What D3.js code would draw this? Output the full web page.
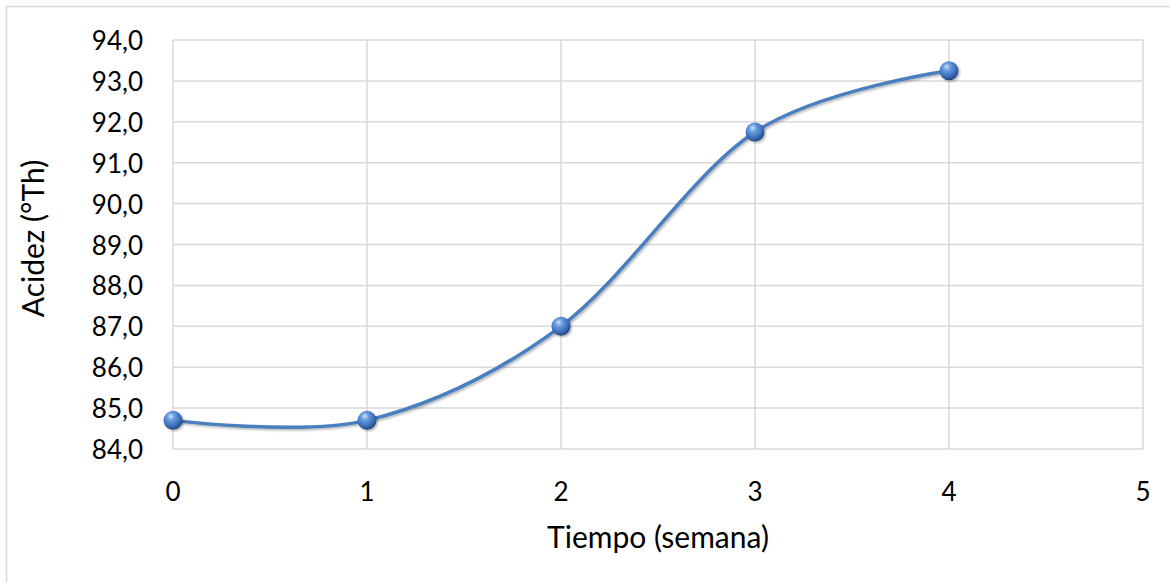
<!DOCTYPE html>
<html>
<head>
<meta charset="utf-8">
<script src="https://cdn.jsdelivr.net/npm/d3@7"></script>
<style>
  html, body { margin: 0; padding: 0; background: #fff; }
  svg { display: block; }
  text { font-family: Lato, "Open Sans", "Liberation Sans", sans-serif; fill: #000; }
</style>
</head>
<body>
<svg id="chart" width="1170" height="582"></svg>
<script>
// Acidez (°Th) measured each week
const weeks = [0, 1, 2, 3, 4];
const acidity = [84.7, 84.7, 87.0, 91.75, 93.25];
const xTicks = [0, 1, 2, 3, 4, 5];
const yTicks = [84, 85, 86, 87, 88, 89, 90, 91, 92, 93, 94];
const xTitle = "Tiempo (semana)";
const yTitle = "Acidez (°Th)";

const svg = d3.select("#chart");
const W = 1170, H = 582;
const plot = { left: 173, right: 1143, top: 40, bottom: 449 };

const x = d3.scaleLinear().domain([0, 5]).range([plot.left, plot.right]);
const y = d3.scaleLinear().domain([84, 94]).range([plot.bottom, plot.top]);

// chart frame
svg.append("rect")
  .attr("x", 6.5).attr("y", 6.5)
  .attr("width", W + 20).attr("height", H + 20)
  .attr("fill", "#fff").attr("stroke", "#d9d9d9").attr("stroke-width", 1.5);

const defs = svg.append("defs");
const grad = defs.append("radialGradient")
  .attr("id", "ball").attr("cx", "40%").attr("cy", "35%").attr("r", "65%")
  .attr("fx", "38%").attr("fy", "28%");
grad.append("stop").attr("offset", "0%").attr("stop-color", "#cfe2fb");
grad.append("stop").attr("offset", "30%").attr("stop-color", "#6a9de0");
grad.append("stop").attr("offset", "75%").attr("stop-color", "#3a6cb8");
grad.append("stop").attr("offset", "100%").attr("stop-color", "#24487f");

const shadow = defs.append("filter").attr("id", "shadow")
  .attr("x", "-10%").attr("y", "-10%").attr("width", "120%").attr("height", "120%");
shadow.append("feDropShadow")
  .attr("dx", 1.5).attr("dy", 1.5).attr("stdDeviation", 1.2)
  .attr("flood-color", "#000").attr("flood-opacity", 0.3);

// horizontal grid
svg.append("g").selectAll("line").data(yTicks).join("line")
  .attr("x1", plot.left).attr("x2", plot.right)
  .attr("y1", d => y(d)).attr("y2", d => y(d))
  .attr("stroke", "#d9d9d9").attr("stroke-width", 1.5);

// vertical grid
svg.append("g").selectAll("line").data(xTicks).join("line")
  .attr("x1", d => x(d)).attr("x2", d => x(d))
  .attr("y1", plot.top).attr("y2", plot.bottom)
  .attr("stroke", "#d9d9d9").attr("stroke-width", 1.5);

// y tick labels
const fmt = d => d.toFixed(1).replace(".", ",");
svg.append("g").selectAll("text").data(yTicks).join("text")
  .attr("x", plot.left - 30).attr("y", d => y(d) + 10)
  .attr("text-anchor", "end")
  .attr("font-size", 26)
  .text(fmt);

// x tick labels
svg.append("g").selectAll("text").data(xTicks).join("text")
  .attr("x", d => x(d)).attr("y", 501)
  .attr("text-anchor", "middle")
  .attr("font-size", 26)
  .text(d => d);

// axis titles
svg.append("text")
  .attr("x", (plot.left + plot.right) / 2).attr("y", 548)
  .attr("text-anchor", "middle").attr("font-size", 30)
  .text(xTitle);

svg.append("text")
  .attr("transform", `translate(44,${(plot.top + plot.bottom) / 2 - 6}) rotate(-90)`)
  .attr("text-anchor", "middle").attr("font-size", 30)
  .text(yTitle);

// smoothed series line
const data = weeks.map((w, i) => ({ w, v: acidity[i] }));
const line = d3.line()
  .x(d => x(d.w)).y(d => y(d.v))
  .curve(d3.curveCatmullRom.alpha(0));

svg.append("path")
  .datum(data)
  .attr("d", line)
  .attr("fill", "none")
  .attr("stroke", "#4a7ebf")
  .attr("stroke-width", 3.5)
  .attr("stroke-linecap", "round")
  .attr("filter", "url(#shadow)");

// markers
svg.append("g").selectAll("circle").data(data).join("circle")
  .attr("cx", d => x(d.w)).attr("cy", d => y(d.v))
  .attr("r", 9.5)
  .attr("fill", "url(#ball)")
  .attr("filter", "url(#shadow)");
</script>
</body>
</html>
